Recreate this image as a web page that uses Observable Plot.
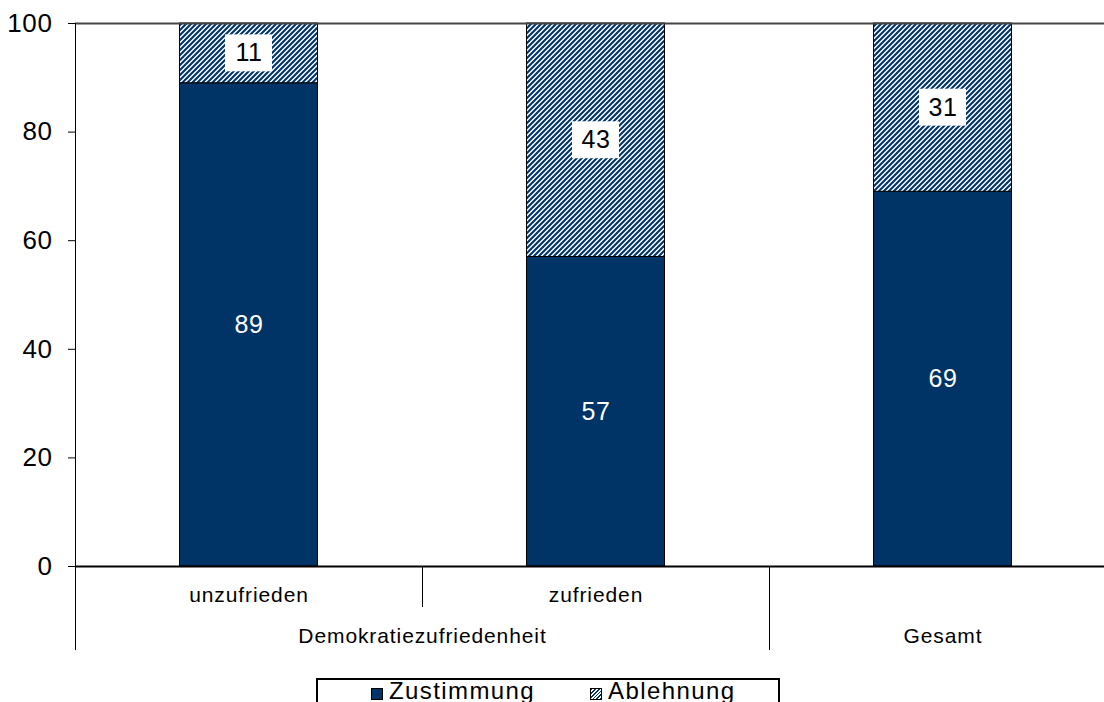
<!DOCTYPE html>
<html>
<head>
<meta charset="utf-8">
<script src="https://cdn.jsdelivr.net/npm/d3@7"></script>
<script src="https://cdn.jsdelivr.net/npm/@observablehq/plot@0.6"></script>
<style>
  html, body { margin: 0; padding: 0; background: #fff; overflow: hidden; width: 1104px; height: 702px; }
  #chart svg { display: block; }
  g[aria-description="category label"] text, g[aria-description="group label"] text { letter-spacing: 0.9px; }
  g[aria-description="value label"] text { letter-spacing: 0.6px; }
  .legend { position: absolute; left: 316px; top: 678px; width: 464px; height: 40px; border: 2px solid #000; box-sizing: border-box;
            font-family: "Liberation Sans", Arial, sans-serif; font-size: 24px; color: #000; background: #fff; }
  .legend .sq { position: absolute; top: 8px; width: 12px; height: 12px; box-sizing: border-box; border: 1px solid #000; }
  .legend .tx { position: absolute; top: -1px; line-height: 24px; letter-spacing: 1.4px; white-space: nowrap; }
</style>
</head>
<body>
<div id="chart"></div>
<div id="legend" class="legend"></div>
<script>
// ---- data ----
const categories = ["unzufrieden", "zufrieden", "Gesamt"];
const firstLevelLabels = ["unzufrieden", "zufrieden", ""];
const groupNames = ["Demokratiezufriedenheit", "Gesamt"];
const seriesNames = ["Zustimmung", "Ablehnung"];
const zustimmung = [89, 57, 69];
const ablehnung = [11, 43, 31];
const yTicks = [0, 20, 40, 60, 80, 100];

// ---- style ----
const NAVY = "#003366";
const FONT = "'Liberation Sans', Arial, sans-serif";
const W = 1104, H = 670;
const Y0 = 566, YTOP = 23;
const pxPerUnit = (Y0 - YTOP) / 100;
const u = px => -(px - Y0) / pxPerUnit; // pixel row -> data value (for below-axis annotations)
const halfBand = (W + 12 - 75) / 3 / 2;

const rows = categories.flatMap((c, i) => [
  { cat: c, series: seriesNames[0], value: zustimmung[i], base: 0 },
  { cat: c, series: seriesNames[1], value: ablehnung[i], base: zustimmung[i] }
]);
rows.forEach(r => { r.top = r.base + r.value; r.mid = r.base + r.value / 2; });
const rowsZ = rows.filter(r => r.series === seriesNames[0]);
const rowsA = rows.filter(r => r.series === seriesNames[1]);

const catLabelRows = categories.map((c, i) => ({ cat: c, label: firstLevelLabels[i] }));
const sepRows = [
  { cat: categories[0], top: 100, bottom: u(650) },
  { cat: categories[1], top: 0, bottom: u(607) },
  { cat: categories[2], top: 0, bottom: u(650) }
];

const PATTERN = `<pattern id="hatch" patternUnits="userSpaceOnUse" width="5" height="5">
  <rect width="5" height="5" fill="#fff"/>
  <path d="M-1,6 L6,-1 M-1,1 L1,-1 M4,6 L6,4" stroke="${NAVY}" stroke-width="2.1"/></pattern>`;

const defsMark = () => {
  const g = document.createElementNS("http://www.w3.org/2000/svg", "defs");
  g.innerHTML = PATTERN;
  return g;
};

const plot = Plot.plot({
  width: W,
  height: H,
  marginLeft: 75,
  marginRight: -12,
  marginTop: YTOP,
  marginBottom: H - Y0,
  style: { fontFamily: FONT, background: "#fff", color: "#000" },
  x: { domain: categories, padding: 0, axis: null },
  y: { domain: [0, 100], axis: null },
  marks: [
    defsMark,
    Plot.barY(rowsZ, { x: "cat", y1: "base", y2: "top", fill: NAVY, stroke: "#000", strokeWidth: 1, insetLeft: 104.5, insetRight: 104.5 }),
    Plot.barY(rowsA, { x: "cat", y1: "base", y2: "top", fill: "url(#hatch)", stroke: "#000", strokeWidth: 1, insetLeft: 104.5, insetRight: 104.5 }),
    Plot.barY(rowsA, { x: "cat", y1: d => d.mid - 3.4, y2: d => d.mid + 3.4, fill: "#fff", insetLeft: 150, insetRight: 150 }),
    Plot.text(rowsZ, { x: "cat", y: "mid", text: d => String(d.value), fill: "#fff", fontSize: 25, ariaDescription: "value label" }),
    Plot.text(rowsA, { x: "cat", y: "mid", text: d => String(d.value), fill: "#000", fontSize: 25, ariaDescription: "value label" }),
    Plot.ruleY([100], { stroke: "#444", strokeWidth: 2 }),
    Plot.ruleY([0], { stroke: "#000", strokeWidth: 2 }),
    Plot.ruleX(sepRows, { x: "cat", y1: "top", y2: "bottom", dx: -halfBand, stroke: "#000", strokeWidth: 1 }),
    Plot.axisY({ ticks: yTicks, tickSize: 7, tickPadding: 16, fontSize: 26, stroke: "#000", tickFormat: d => String(d), ariaDescription: "value label" }),
    Plot.text(catLabelRows, { x: "cat", y: u(594.3), text: "label", fontSize: 21, fill: "#000", ariaDescription: "category label" }),
    Plot.text([groupNames[0]], { x: () => categories[1], y: u(635.3), dx: -halfBand, text: d => d, fontSize: 21, fill: "#000", ariaDescription: "group label" }),
    Plot.text([groupNames[1]], { x: () => categories[2], y: u(635.3), text: d => d, fontSize: 21, fill: "#000", ariaDescription: "group label" })
  ]
});
document.getElementById("chart").appendChild(plot);

// ---- legend (HTML, below the SVG) ----
const legend = document.getElementById("legend");
const legendSwatch = [NAVY, `repeating-linear-gradient(135deg, ${NAVY} 0 1.3px, #fff 1.3px 2.6px)`];
const swatchLeft = [53, 272];
const textLeft = [71, 290];
seriesNames.forEach((name, i) => {
  const sq = document.createElement("div");
  sq.className = "sq";
  sq.style.left = swatchLeft[i] + "px";
  sq.style.background = legendSwatch[i];
  legend.appendChild(sq);
  const tx = document.createElement("div");
  tx.className = "tx";
  tx.style.left = textLeft[i] + "px";
  tx.textContent = name;
  legend.appendChild(tx);
});
</script>
</body>
</html>
